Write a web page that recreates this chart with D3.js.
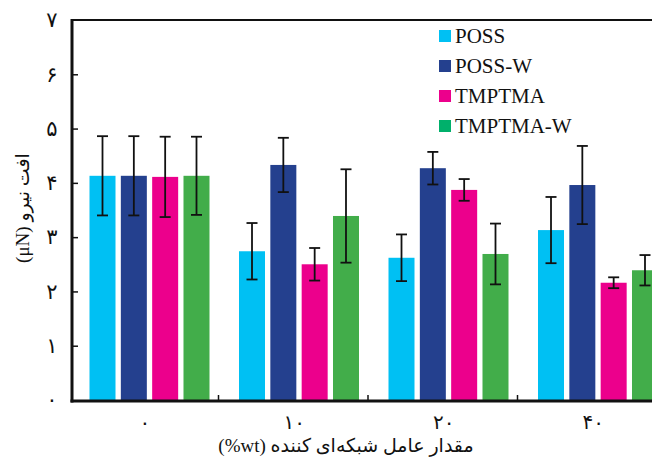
<!DOCTYPE html>
<html>
<head>
<meta charset="utf-8">
<script src="https://cdn.jsdelivr.net/npm/d3@7"></script>
<style>
  body { margin: 0; background: #fff; }
  svg { display: block; }
</style>
</head>
<body>
<svg id="chart" width="652" height="460"></svg>
<script>
// Crosslinker content categories and their Persian labels
const categories = ["0", "10", "20", "40"];
const categoryLabels = ["۰", "۱۰", "۲۰", "۴۰"];

// Series (force drop, μN) and their standard deviations
const seriesNames = ["POSS", "POSS-W", "TMPTMA", "TMPTMA-W"];
const possValues     = [4.13, 2.74, 2.62, 3.13];
const possErrors     = [0.73, 0.52, 0.43, 0.61];
const possWValues    = [4.13, 4.33, 4.27, 3.96];
const possWErrors    = [0.73, 0.50, 0.30, 0.72];
const tmptmaValues   = [4.11, 2.50, 3.87, 2.16];
const tmptmaErrors   = [0.74, 0.30, 0.20, 0.10];
const tmptmaWValues  = [4.13, 3.39, 2.69, 2.39];
const tmptmaWErrors  = [0.72, 0.86, 0.56, 0.28];

const yTicks = [0, 1, 2, 3, 4, 5, 6, 7];
const yTickLabels = ["۰", "۱", "۲", "۳", "۴", "۵", "۶", "۷"];

const yTitle = "افت نیرو (μN)";
const xTitle = "مقدار عامل شبکه‌ای کننده (wt%)";

const barColors = ["#00c0f3", "#24408e", "#ec008c", "#42ad4a"];
const legendColors = ["#00c0f3", "#24408e", "#ec008c", "#00b06b"];

const seriesValues = [possValues, possWValues, tmptmaValues, tmptmaWValues];
const seriesErrors = [possErrors, possWErrors, tmptmaErrors, tmptmaWErrors];

const rows = [];
categories.forEach((c, ci) => {
  seriesNames.forEach((s, si) => {
    rows.push({ cat: c, series: s, value: seriesValues[si][ci], err: seriesErrors[si][ci], si });
  });
});

const svg = d3.select("#chart");
const axisX = 72, plotTop = 20, plotBottom = 400, rightEdge = 700;
const persianFont = "'Liberation Serif', 'DejaVu Sans', serif";

const x0 = d3.scaleBand().domain(categories).range([69, 69 + 4 * 149.5]).paddingInner(0).paddingOuter(0);
const groupOffset = 20.5, groupWidth = 120;
const x1 = d3.scaleBand().domain(seriesNames).range([0, groupWidth]).paddingInner(0.17).paddingOuter(0);
const y = d3.scaleLinear().domain([0, 7]).range([plotBottom, plotTop]);

// Bars
svg.append("g").selectAll("rect").data(rows).join("rect")
  .attr("x", d => x0(d.cat) + groupOffset + x1(d.series))
  .attr("y", d => y(d.value))
  .attr("width", x1.bandwidth())
  .attr("height", d => y(0) - y(d.value))
  .attr("fill", d => barColors[d.si]);

// Error bars
const eb = svg.append("g").attr("stroke", "#111").attr("stroke-width", 1.8).attr("fill", "none");
rows.forEach(d => {
  const cx = x0(d.cat) + groupOffset + x1(d.series) + x1.bandwidth() / 2;
  const yHi = y(d.value + d.err), yLo = y(d.value - d.err);
  eb.append("line").attr("x1", cx).attr("x2", cx).attr("y1", yHi).attr("y2", yLo);
  eb.append("line").attr("x1", cx - 5.5).attr("x2", cx + 5.5).attr("y1", yHi).attr("y2", yHi);
  eb.append("line").attr("x1", cx - 5.5).attr("x2", cx + 5.5).attr("y1", yLo).attr("y2", yLo);
});

// Frame: top border, left and bottom axes
svg.append("line").attr("x1", axisX).attr("x2", rightEdge).attr("y1", plotTop).attr("y2", plotTop)
  .attr("stroke", "#111").attr("stroke-width", 2.2);
svg.append("line").attr("x1", axisX).attr("x2", axisX).attr("y1", plotTop - 1).attr("y2", plotBottom + 2.5)
  .attr("stroke", "#111").attr("stroke-width", 3);
svg.append("line").attr("x1", axisX - 1.5).attr("x2", rightEdge).attr("y1", plotBottom + 1).attr("y2", plotBottom + 1)
  .attr("stroke", "#111").attr("stroke-width", 3);

// Y axis ticks (pointing inward) and Persian labels
const yAxis = d3.axisLeft(y).tickValues(yTicks.slice(1, -1)).tickSizeInner(-6).tickSizeOuter(0).tickFormat("");
const yg = svg.append("g").attr("transform", `translate(${axisX},0)`).call(yAxis);
yg.select(".domain").remove();
yg.selectAll(".tick line").attr("stroke", "#111").attr("stroke-width", 1.5);

svg.append("g").selectAll("text").data(yTicks).join("text")
  .attr("x", 52)
  .attr("y", d => y(d))
  .attr("dy", "0.35em")
  .attr("text-anchor", "middle")
  .attr("font-family", persianFont)
  .attr("font-size", 21)
  .attr("fill", "#111")
  .text((d, i) => yTickLabels[i]);

// X axis category separators and labels
svg.append("g").selectAll("line").data(categories.slice(1)).join("line")
  .attr("x1", d => x0(d)).attr("x2", d => x0(d))
  .attr("y1", plotBottom - 5).attr("y2", plotBottom)
  .attr("stroke", "#111").attr("stroke-width", 1.5);

svg.append("g").selectAll("text").data(categories).join("text")
  .attr("x", d => x0(d) + x0.bandwidth() / 2 + 1)
  .attr("y", 422)
  .attr("dy", "0.35em")
  .attr("text-anchor", "middle")
  .attr("font-family", persianFont)
  .attr("font-size", 20)
  .attr("fill", "#111")
  .text((d, i) => categoryLabels[i]);

// Axis titles
svg.append("text")
  .attr("x", 346).attr("y", 452)
  .attr("text-anchor", "middle")
  .attr("direction", "rtl")
  .attr("font-family", persianFont)
  .attr("font-size", 19)
  .attr("fill", "#111")
  .text(xTitle);

svg.append("text")
  .attr("transform", "translate(22,208) rotate(-90)")
  .attr("dy", "0.35em")
  .attr("text-anchor", "middle")
  .attr("direction", "rtl")
  .attr("font-family", persianFont)
  .attr("font-size", 19)
  .attr("fill", "#111")
  .text(yTitle);

// Legend
const legend = svg.append("g").selectAll("g").data(seriesNames).join("g")
  .attr("transform", (d, i) => `translate(439,${30 + i * 30})`);
legend.append("rect").attr("width", 12).attr("height", 12).attr("fill", (d, i) => legendColors[i]);
legend.append("text")
  .attr("x", 16).attr("y", 13)
  .attr("font-family", "'Liberation Serif', 'Times New Roman', serif")
  .attr("font-size", 21)
  .attr("fill", "#111")
  .text(d => d);
</script>
</body>
</html>
